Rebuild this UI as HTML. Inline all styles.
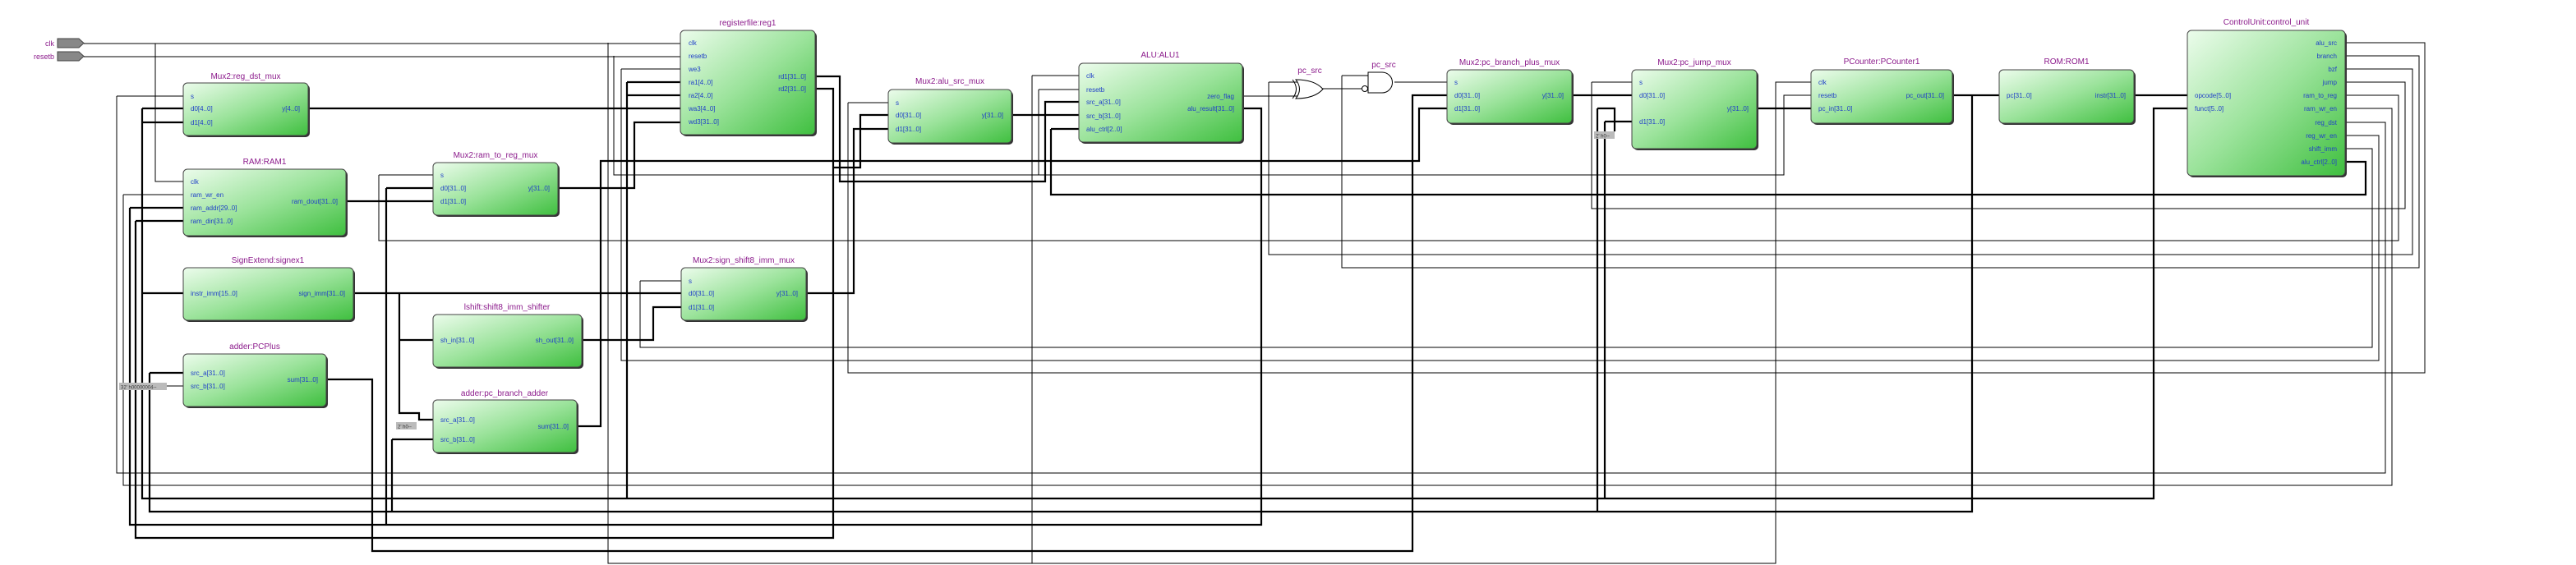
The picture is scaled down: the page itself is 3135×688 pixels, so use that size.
<!DOCTYPE html>
<html><head><meta charset="utf-8"><style>
html,body{margin:0;padding:0;background:#fff;}
svg{display:block;}
.t{font-family:"Liberation Sans",sans-serif;font-size:10px;fill:#8b1a8b;text-anchor:middle;}
.p{font-family:"Liberation Sans",sans-serif;font-size:8px;fill:#1f3fc8;}
.r{text-anchor:end;}
.w{stroke:#000;stroke-width:1;fill:none;}
.b{stroke:#000;stroke-width:2.2;fill:none;}
</style></head><body>
<svg width="3135" height="688" viewBox="0 0 3135 688" xmlns="http://www.w3.org/2000/svg">
<defs>
<linearGradient id="g" x1="0" y1="0" x2="1" y2="1">
<stop offset="0" stop-color="#ecfcec"/><stop offset="0.5" stop-color="#9be39b"/><stop offset="1" stop-color="#3fbf3f"/>
</linearGradient>
</defs>

<!-- top-level pins -->
<polygon points="70,47 96,47 102,52.5 96,58 70,58" fill="#888" stroke="#444"/>
<polygon points="70,63 96,63 102,68.5 96,74 70,74" fill="#888" stroke="#444"/>
<text x="66" y="56" class="t" style="text-anchor:end;font-size:9px">clk</text>
<text x="66" y="72" class="t" style="text-anchor:end;font-size:9px">resetb</text>

<!-- thin wires -->
<g class="w">
<path d="M102,53H829 M189,53V221H223"/>
<path d="M102,69H829"/>
<path d="M142,117H223 M142,117V576H2903V149H2854"/>
<path d="M150,237H223 M150,237V591H2911V132H2854"/>
<path d="M740,52V686H2161V100H2204"/>
<path d="M747,68V213H2171V116H2204"/>
<path d="M756,84H829 M756,84V439H2895V165H2854"/>
<path d="M461,213H527 M461,213V293H2919V116H2854"/>
<path d="M779,342H829 M779,342V423H2887V181H2854"/>
<path d="M1032,125H1081 M1032,125V454H2951V52H2854"/>
<path d="M1256,92H1313 M1256,92V686"/>
<path d="M1264,109H1313 M1264,109V213"/>
<path d="M1544,100H1580 M1544,100V310H2936V84H2854"/>
<path d="M1512,117H1580"/>
<path d="M1633,92H1665 M1633,92V326H2944V68H2854"/>
<path d="M1937,100H1986 M1937,100V254H2927V100H2854"/>
<path d="M1606,108H1657"/>
<path d="M1697,100H1761"/>
</g>

<!-- bus wires -->
<g class="b">
<path d="M173,132H223 M173,149H223 M173,357H223 M173,132V607H2621V132H2662"/>
<path d="M763,100H829 M763,116H829 M763,100V607"/>
<path d="M182,454H223 M182,454V623H2400V116"/>
<path d="M158,253H223 M158,253V639H1535V132H1512"/>
<path d="M165,269H223 M165,269V655H1014V108H992"/>
<path d="M397,462H453V671H1719V116H1761"/>
<path d="M375,132H829"/>
<path d="M421,245H527"/>
<path d="M470,229H527 M470,229V639"/>
<path d="M477,535H527 M477,535V623"/>
<path d="M430,357H829 M486,357V503H510V511H527 M486,414H527"/>
<path d="M702,519H731V196H1727V132H1761"/>
<path d="M679,229H772V149H829"/>
<path d="M708,414H795V374H829"/>
<path d="M992,93H1022V221H1272V124H1313"/>
<path d="M1014,204H1047V140H1081"/>
<path d="M981,357H1039V157H1081"/>
<path d="M1231,140H1313"/>
<path d="M1279,157H1313 M1279,157V237H2879V197H2854"/>
<path d="M1913,116H1986"/>
<path d="M1953,148H1986 M1953,148V607"/>
<path d="M1944,132H1965V160 M1944,132V623"/>
<path d="M2138,132H2204"/>
<path d="M2376,116H2433"/>
<path d="M2597,116H2662"/>
</g>

<!-- constants -->
<rect x="145" y="466" width="58" height="9" fill="#bbb"/>
<text x="147" y="473.5" class="p" style="fill:#333;font-size:6px">32' h00000004--</text>
<path d="M203,470H223" class="w"/>
<rect x="482" y="514" width="25" height="9" fill="#bbb"/>
<text x="484" y="521.5" class="p" style="fill:#333;font-size:6px">2' h0--</text>
<rect x="1940" y="160" width="25" height="9" fill="#bbb"/>
<text x="1942" y="167.5" class="p" style="fill:#333;font-size:6px">2' h0--</text>

<!-- gates -->
<path d="M1577,97 Q1600,97 1610,108.5 Q1600,120 1577,120 Q1586,108.5 1577,97Z" fill="#fff" stroke="#000"/>
<path d="M1573,97 Q1582,108.5 1573,120" fill="none" stroke="#000"/>
<path d="M1665,88H1682 A12.5,12.5 0 0 1 1682,113H1665Z" fill="#fff" stroke="#000"/>
<circle cx="1661" cy="108" r="3.5" fill="#fff" stroke="#000"/>
<text x="1594" y="89" class="t">pc_src</text>
<text x="1684" y="82" class="t">pc_src</text>

<!-- boxes -->
<g>
<!-- reg_dst_mux -->
<rect x="225" y="103" width="152" height="64" rx="5" fill="#333"/>
<rect x="223" y="101" width="152" height="64" rx="5" fill="url(#g)" stroke="#444"/>
<text x="299" y="96" class="t">Mux2:reg_dst_mux</text>
<text x="232" y="120" class="p">s</text><text x="232" y="135" class="p">d0[4..0]</text><text x="232" y="152" class="p">d1[4..0]</text>
<text x="365" y="135" class="p r">y[4..0]</text>

<!-- RAM -->
<rect x="225" y="208" width="198" height="81" rx="5" fill="#333"/>
<rect x="223" y="206" width="198" height="81" rx="5" fill="url(#g)" stroke="#444"/>
<text x="322" y="200" class="t">RAM:RAM1</text>
<text x="232" y="224" class="p">clk</text><text x="232" y="240" class="p">ram_wr_en</text><text x="232" y="256" class="p">ram_addr[29..0]</text><text x="232" y="272" class="p">ram_din[31..0]</text>
<text x="411" y="248" class="p r">ram_dout[31..0]</text>

<!-- SignExtend -->
<rect x="225" y="328" width="207" height="64" rx="5" fill="#333"/>
<rect x="223" y="326" width="207" height="64" rx="5" fill="url(#g)" stroke="#444"/>
<text x="326" y="320" class="t">SignExtend:signex1</text>
<text x="232" y="360" class="p">instr_imm[15..0]</text>
<text x="420" y="360" class="p r">sign_imm[31..0]</text>

<!-- PCPlus -->
<rect x="225" y="433" width="174" height="64" rx="5" fill="#333"/>
<rect x="223" y="431" width="174" height="64" rx="5" fill="url(#g)" stroke="#444"/>
<text x="310" y="425" class="t">adder:PCPlus</text>
<text x="232" y="457" class="p">src_a[31..0]</text><text x="232" y="473" class="p">src_b[31..0]</text>
<text x="387" y="465" class="p r">sum[31..0]</text>

<!-- ram_to_reg -->
<rect x="529" y="200" width="152" height="64" rx="5" fill="#333"/>
<rect x="527" y="198" width="152" height="64" rx="5" fill="url(#g)" stroke="#444"/>
<text x="603" y="192" class="t">Mux2:ram_to_reg_mux</text>
<text x="536" y="216" class="p">s</text><text x="536" y="232" class="p">d0[31..0]</text><text x="536" y="248" class="p">d1[31..0]</text>
<text x="669" y="232" class="p r">y[31..0]</text>

<!-- shifter -->
<rect x="529" y="385" width="181" height="64" rx="5" fill="#333"/>
<rect x="527" y="383" width="181" height="64" rx="5" fill="url(#g)" stroke="#444"/>
<text x="617" y="377" class="t">lshift:shift8_imm_shifter</text>
<text x="536" y="417" class="p">sh_in[31..0]</text>
<text x="698" y="417" class="p r">sh_out[31..0]</text>

<!-- branch adder -->
<rect x="529" y="489" width="175" height="64" rx="5" fill="#333"/>
<rect x="527" y="487" width="175" height="64" rx="5" fill="url(#g)" stroke="#444"/>
<text x="614" y="482" class="t">adder:pc_branch_adder</text>
<text x="536" y="514" class="p">src_a[31..0]</text><text x="536" y="538" class="p">src_b[31..0]</text>
<text x="692" y="522" class="p r">sum[31..0]</text>

<!-- registerfile -->
<rect x="830" y="39" width="164" height="127" rx="5" fill="#333"/>
<rect x="828" y="37" width="164" height="127" rx="5" fill="url(#g)" stroke="#444"/>
<text x="910" y="31" class="t">registerfile:reg1</text>
<text x="838" y="55" class="p">clk</text><text x="838" y="71" class="p">resetb</text><text x="838" y="87" class="p">we3</text>
<text x="838" y="103" class="p">ra1[4..0]</text><text x="838" y="119" class="p">ra2[4..0]</text><text x="838" y="135" class="p">wa3[4..0]</text><text x="838" y="151" class="p">wd3[31..0]</text>
<text x="981" y="96" class="p r">rd1[31..0]</text><text x="981" y="111" class="p r">rd2[31..0]</text>

<!-- sign_shift mux -->
<rect x="831" y="328" width="152" height="64" rx="5" fill="#333"/>
<rect x="829" y="326" width="152" height="64" rx="5" fill="url(#g)" stroke="#444"/>
<text x="905" y="320" class="t">Mux2:sign_shift8_imm_mux</text>
<text x="838" y="345" class="p">s</text><text x="838" y="360" class="p">d0[31..0]</text><text x="838" y="377" class="p">d1[31..0]</text>
<text x="971" y="360" class="p r">y[31..0]</text>

<!-- alu_src -->
<rect x="1083" y="111" width="150" height="65" rx="5" fill="#333"/>
<rect x="1081" y="109" width="150" height="65" rx="5" fill="url(#g)" stroke="#444"/>
<text x="1156" y="102" class="t">Mux2:alu_src_mux</text>
<text x="1090" y="128" class="p">s</text><text x="1090" y="143" class="p">d0[31..0]</text><text x="1090" y="160" class="p">d1[31..0]</text>
<text x="1221" y="143" class="p r">y[31..0]</text>

<!-- ALU -->
<rect x="1315" y="79" width="199" height="96" rx="5" fill="#333"/>
<rect x="1313" y="77" width="199" height="96" rx="5" fill="url(#g)" stroke="#444"/>
<text x="1412" y="70" class="t">ALU:ALU1</text>
<text x="1322" y="95" class="p">clk</text><text x="1322" y="112" class="p">resetb</text><text x="1322" y="127" class="p">src_a[31..0]</text><text x="1322" y="144" class="p">src_b[31..0]</text><text x="1322" y="160" class="p">alu_ctrl[2..0]</text>
<text x="1502" y="120" class="p r">zero_flag</text><text x="1502" y="135" class="p r">alu_result[31..0]</text>

<!-- pc_branch_plus -->
<rect x="1763" y="87" width="152" height="65" rx="5" fill="#333"/>
<rect x="1761" y="85" width="152" height="65" rx="5" fill="url(#g)" stroke="#444"/>
<text x="1837" y="79" class="t">Mux2:pc_branch_plus_mux</text>
<text x="1770" y="103" class="p">s</text><text x="1770" y="119" class="p">d0[31..0]</text><text x="1770" y="135" class="p">d1[31..0]</text>
<text x="1903" y="119" class="p r">y[31..0]</text>

<!-- pc_jump -->
<rect x="1988" y="87" width="152" height="96" rx="5" fill="#333"/>
<rect x="1986" y="85" width="152" height="96" rx="5" fill="url(#g)" stroke="#444"/>
<text x="2062" y="79" class="t">Mux2:pc_jump_mux</text>
<text x="1995" y="103" class="p">s</text><text x="1995" y="119" class="p">d0[31..0]</text><text x="1995" y="151" class="p">d1[31..0]</text>
<text x="2128" y="135" class="p r">y[31..0]</text>

<!-- PCounter -->
<rect x="2206" y="87" width="172" height="65" rx="5" fill="#333"/>
<rect x="2204" y="85" width="172" height="65" rx="5" fill="url(#g)" stroke="#444"/>
<text x="2290" y="78" class="t">PCounter:PCounter1</text>
<text x="2213" y="103" class="p">clk</text><text x="2213" y="119" class="p">resetb</text><text x="2213" y="135" class="p">pc_in[31..0]</text>
<text x="2366" y="119" class="p r">pc_out[31..0]</text>

<!-- ROM -->
<rect x="2435" y="87" width="164" height="65" rx="5" fill="#333"/>
<rect x="2433" y="85" width="164" height="65" rx="5" fill="url(#g)" stroke="#444"/>
<text x="2515" y="78" class="t">ROM:ROM1</text>
<text x="2442" y="119" class="p">pc[31..0]</text>
<text x="2587" y="119" class="p r">instr[31..0]</text>

<!-- Control -->
<rect x="2664" y="39" width="192" height="177" rx="5" fill="#333"/>
<rect x="2662" y="37" width="192" height="177" rx="5" fill="url(#g)" stroke="#444"/>
<text x="2758" y="30" class="t">ControlUnit:control_unit</text>
<text x="2671" y="119" class="p">opcode[5..0]</text><text x="2671" y="135" class="p">funct[5..0]</text>
<text x="2844" y="55" class="p r">alu_src</text><text x="2844" y="71" class="p r">branch</text><text x="2844" y="87" class="p r">bzf</text><text x="2844" y="103" class="p r">jump</text><text x="2844" y="119" class="p r">ram_to_reg</text>
<text x="2844" y="135" class="p r">ram_wr_en</text><text x="2844" y="152" class="p r">reg_dst</text><text x="2844" y="168" class="p r">reg_wr_en</text><text x="2844" y="184" class="p r">shift_imm</text><text x="2844" y="200" class="p r">alu_ctrl[2..0]</text>
</g>
</svg>
</body></html>
